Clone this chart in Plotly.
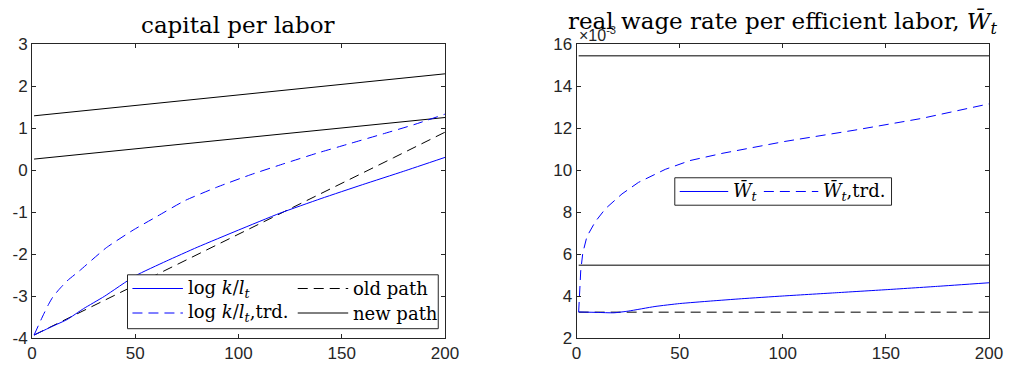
import plotly.graph_objects as go

# ---------------- data ----------------
# capital per labor (log), horizon t
t_kl = [1, 10, 17, 25, 35, 50, 65, 80, 100, 120, 140, 160, 180, 200]
log_kl = [-3.93, -3.72, -3.56, -3.30, -3.01, -2.52, -2.17, -1.84, -1.43, -1.03, -0.68, -0.35, -0.03, 0.30]

t_kl_trd = [1, 5, 8, 10, 13, 17, 23, 36, 49, 60, 74, 90, 106, 122, 138, 154, 170, 185, 200]
log_kl_trd = [-3.93, -3.50, -3.20, -3.03, -2.85, -2.64, -2.40, -1.85, -1.43, -1.12, -0.73, -0.40,
              -0.11, 0.15, 0.40, 0.63, 0.86, 1.08, 1.33]

t_old = [1, 25, 50, 75, 100, 125, 150, 175, 200]
old_path = [-3.93, -3.35, -2.74, -2.14, -1.53, -0.92, -0.31, 0.29, 0.90]

t_new = [1, 200]
new_path_hi = [1.29, 2.29]
new_path_lo = [0.26, 1.25]

# real wage rate per efficient labor
t_w = [1, 5, 10, 18, 25, 38, 50, 65, 80, 100, 125, 150, 175, 200]
w_bar = [3.24e-3, 3.23e-3, 3.22e-3, 3.20e-3, 3.28e-3, 3.50e-3, 3.64e-3, 3.76e-3, 3.87e-3,
         4.00e-3, 4.15e-3, 4.30e-3, 4.46e-3, 4.63e-3]

t_w_trd = [1, 2, 3, 5, 9, 14, 22, 30, 43, 55, 71, 101, 135, 167, 200]
w_bar_trd = [3.24e-3, 5.20e-3, 6.05e-3, 6.83e-3, 7.53e-3, 8.16e-3, 8.86e-3, 9.41e-3, 10.03e-3,
             10.45e-3, 10.80e-3, 11.36e-3, 11.90e-3, 12.45e-3, 13.15e-3]

t_w_lev = [1, 200]
w_old = [3.23e-3, 3.23e-3]
w_new_lo = [5.46e-3, 5.46e-3]
w_new_hi = [15.44e-3, 15.44e-3]

x_ticks = [0, 50, 100, 150, 200]
kl_ticks = [-4, -3, -2, -1, 0, 1, 2, 3]
w_ticks = [2e-3, 4e-3, 6e-3, 8e-3, 10e-3, 12e-3, 14e-3, 16e-3]
w_ticklabels = ["2", "4", "6", "8", "10", "12", "14", "16"]

# ---------------- styling ----------------
BLUE = "#0000ff"
BLACK = "#000000"
GREY = "#555555"
AXIS = "#262626"
DASH = "10px,6px"
SERIF = "DejaVu Serif"
SANS = "Liberation Sans, Arial, sans-serif"

W, H = 1015, 375
ML, MR, MT, MB = 32, 16, 44, 31
PW, PH = W - ML - MR, H - MT - MB


def px(x):
    return (x - ML) / PW


def py(y):
    return (H - MB - y) / PH


fig = go.Figure()


def line(x, y, color, dash="solid", axis=1, width=1.0, smooth=False):
    ln = dict(color=color, width=width, dash=dash)
    if smooth:
        ln.update(shape="spline", smoothing=0.5)
    fig.add_trace(go.Scatter(
        x=x, y=y, mode="lines", showlegend=False, hoverinfo="skip", line=ln,
        xaxis="x" if axis == 1 else "x2", yaxis="y" if axis == 1 else "y2"))


# left panel
line(t_new, new_path_hi, BLACK)
line(t_new, new_path_lo, BLACK)
line(t_old, old_path, BLACK, DASH)
line(t_kl_trd, log_kl_trd, BLUE, DASH, smooth=True)
line(t_kl, log_kl, BLUE, smooth=True)

# right panel
line(t_w_lev, w_new_hi, GREY, axis=2, width=1.5)
line(t_w_lev, w_new_lo, GREY, axis=2, width=1.5)
line(t_w_lev, w_old, BLACK, DASH, axis=2)
line(t_w_trd, w_bar_trd, BLUE, DASH, axis=2)
line(t_w, w_bar, BLUE, axis=2, smooth=True)

axis_common = dict(
    showgrid=False, zeroline=False, showline=True, mirror="allticks",
    linecolor=AXIS, linewidth=1, ticks="inside", ticklen=4, tickcolor=AXIS,
    tickfont=dict(family=SANS, size=17, color=AXIS),
)

left_dom = [0, px(449.3)]
right_dom = [px(582.3), 1.0]

fig.update_layout(
    width=W, height=H,
    margin=dict(l=ML, r=MR, t=MT, b=MB),
    paper_bgcolor="white", plot_bgcolor="white",
    showlegend=False,
    xaxis=dict(domain=left_dom, range=[0, 200], tickvals=x_ticks, anchor="y", **axis_common),
    yaxis=dict(domain=[0, 1], range=[-4, 3], tickvals=kl_ticks,
               ticktext=[str(v) for v in kl_ticks], anchor="x", **axis_common),
    xaxis2=dict(domain=right_dom, range=[0, 200], tickvals=x_ticks, anchor="y2", **axis_common),
    yaxis2=dict(domain=[0, 1], range=[2e-3, 16e-3], tickvals=w_ticks,
                ticktext=w_ticklabels, anchor="x2", **axis_common),
)

shapes = []
annotations = []

# titles
annotations.append(dict(
    text="capital per labor", x=(left_dom[0] + left_dom[1]) / 2, y=1,
    xref="paper", yref="paper", xanchor="center", yanchor="bottom", yshift=4,
    showarrow=False, font=dict(family=SERIF, size=23, color="black")))
annotations.append(dict(
    text="real wage rate per efficient labor, <i>W\u0304</i><sub><i>t</i></sub>",
    x=(right_dom[0] + right_dom[1]) / 2, y=1,
    xref="paper", yref="paper", xanchor="center", yanchor="bottom", yshift=4,
    showarrow=False, font=dict(family=SERIF, size=23, color="black")))

# axis exponent
annotations.append(dict(
    text="\u00d710<sup>-3</sup>", x=px(583), y=1, xref="paper", yref="paper",
    xanchor="left", yanchor="bottom", yshift=-2, showarrow=False,
    font=dict(family=SANS, size=16, color=AXIS)))


def legend_box(x0, x1, y0, y1):
    shapes.append(dict(type="rect", xref="paper", yref="paper",
                       x0=px(x0), x1=px(x1), y0=py(y1), y1=py(y0),
                       line=dict(color=AXIS, width=1), fillcolor="white", layer="above"))


def legend_item(x0, x1, y, color, dash, label):
    shapes.append(dict(type="line", xref="paper", yref="paper",
                       x0=px(x0), x1=px(x1), y0=py(y), y1=py(y),
                       line=dict(color=color, width=1, dash=dash), layer="above"))
    annotations.append(dict(
        text=label, x=px(x1 + 3), y=py(y), xref="paper", yref="paper",
        xanchor="left", yanchor="middle", showarrow=False,
        font=dict(family=SERIF, size=18, color="black")))


kl_lab = "log <i>k</i>/<i>l</i><sub><i>t</i></sub>"
legend_box(128.5, 442.5, 279.5, 334.5)
legend_item(133.5, 184.5, 293.5, BLUE, "solid", kl_lab)
legend_item(133.5, 184.5, 318.5, BLUE, DASH, kl_lab + ",trd.")
legend_item(300.5, 351.5, 293.5, BLACK, DASH, "old path")
legend_item(300.5, 351.5, 318.5, BLACK, "solid", "new path")

w_lab = "<i>W\u0304</i><sub><i>t</i></sub>"
legend_box(681.5, 900.5, 180.5, 208.5)
legend_item(686.5, 735.5, 194.5, BLUE, "solid", w_lab)
legend_item(771.5, 826.5, 194.5, BLUE, DASH, w_lab + ",trd.")

fig.update_layout(shapes=shapes, annotations=annotations)

fig.write_html("out.html")
